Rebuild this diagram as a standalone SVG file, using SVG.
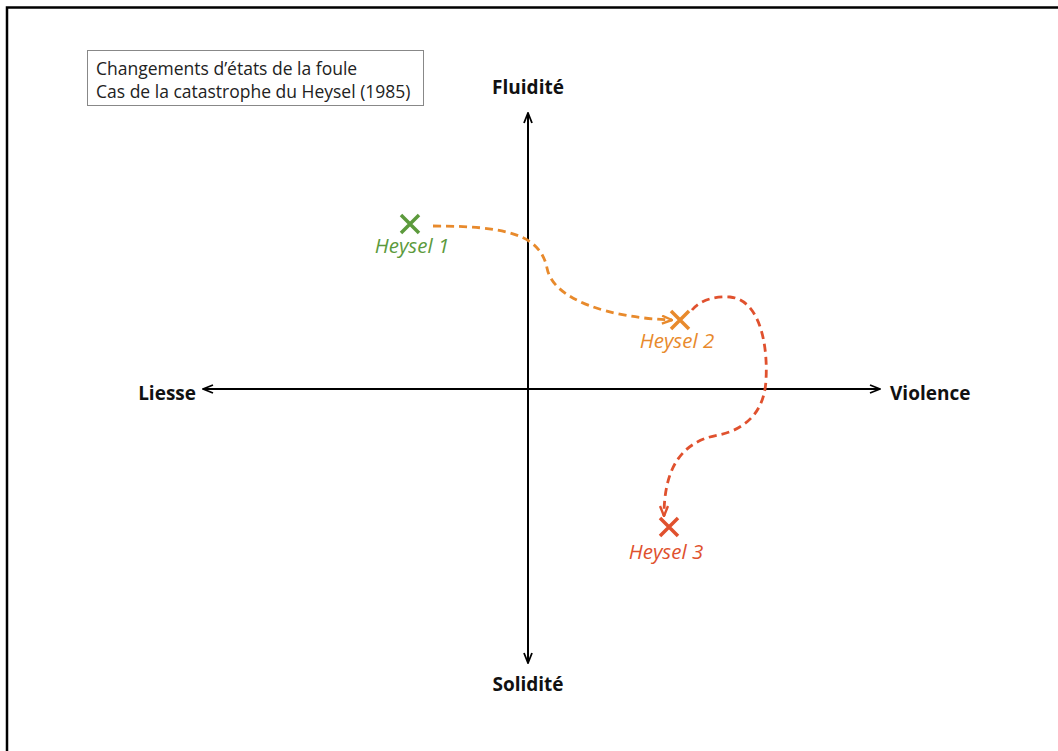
<svg xmlns="http://www.w3.org/2000/svg" width="1058" height="751" viewBox="0 0 1058 751">
<defs>
<style>
.axis{stroke:#000;stroke-width:2;fill:none}
.ax-label{font-family:"Open Sans","Liberation Sans",sans-serif;font-weight:bold;font-size:19px;fill:#111}
.legend{font-family:"Open Sans","Liberation Sans",sans-serif;font-size:17.5px;fill:#222}
.pt-label{font-family:"Open Sans","Liberation Sans",sans-serif;font-style:italic;font-size:20.5px}
.dash{fill:none;stroke-width:2.8;stroke-dasharray:8,5}
</style>
<marker id="ah" viewBox="0 0 12 10" refX="11" refY="5" markerWidth="12" markerHeight="10" markerUnits="userSpaceOnUse" orient="auto">
<path d="M1,1 L11,5 L1,9" fill="none" stroke="#000" stroke-width="1.8"/>
</marker>
<marker id="ah-or" viewBox="0 0 12 10" refX="11" refY="5" markerWidth="12" markerHeight="10" markerUnits="userSpaceOnUse" orient="auto">
<path d="M1,1 L11,5 L1,9" fill="none" stroke="#e88a2c" stroke-width="2.4"/>
</marker>
<marker id="ah-red" viewBox="0 0 12 10" refX="11" refY="5" markerWidth="12" markerHeight="10" markerUnits="userSpaceOnUse" orient="auto">
<path d="M1,1 L11,5 L1,9" fill="none" stroke="#e0512e" stroke-width="2.4"/>
</marker>
</defs>
<rect width="1058" height="751" fill="#fff"/>
<path d="M7,751 V7.5 H1058" fill="none" stroke="#000" stroke-width="2.5"/>
<g id="legend">
<rect x="87.5" y="50.5" width="336" height="55" fill="#fff" stroke="#888" stroke-width="1"/>
<text class="legend" x="96" y="75">Changements d’états de la foule</text>
<text class="legend" x="96" y="98">Cas de la catastrophe du Heysel (1985)</text>
</g>
<g id="connectors">
<line class="axis" x1="528" y1="660" x2="528" y2="113" marker-end="url(#ah)"/>
<line class="axis" x1="528" y1="389" x2="528" y2="663" marker-end="url(#ah)"/>
<line class="axis" x1="528" y1="389" x2="880" y2="389" marker-end="url(#ah)"/>
<line class="axis" x1="528" y1="389" x2="203" y2="389" marker-end="url(#ah)"/>
<path class="dash" stroke="#e88a2c" d="M433,226 C505,226 540,234 547,268 C553,300 610,318 672,320" marker-end="url(#ah-or)"/>
<path class="dash" stroke="#e0512e" d="M692,310 C700,300 715,296 730,297 C760,300 768,345 766,380 C764,420 735,432 718,435 C680,442 664,470 664,516" marker-end="url(#ah-red)"/>
</g>
<g id="axis-fluidite"><text class="ax-label" x="528" y="94" text-anchor="middle">Fluidité</text></g>
<g id="axis-solidite"><text class="ax-label" x="528" y="691" text-anchor="middle">Solidité</text></g>
<g id="axis-liesse"><text class="ax-label" x="196" y="400" text-anchor="end">Liesse</text></g>
<g id="axis-violence"><text class="ax-label" x="890" y="400">Violence</text></g>
<g id="heysel1">
<path d="M401,215 L419,233 M419,215 L401,233" stroke="#5c9a3c" stroke-width="3.5" fill="none"/>
<text class="pt-label" x="412" y="253" text-anchor="middle" fill="#5c9a3c">Heysel 1</text>
</g>
<g id="heysel2">
<path d="M671,311 L689,329 M689,311 L671,329" stroke="#e88a2c" stroke-width="3.5" fill="none"/>
<text class="pt-label" x="677" y="348" text-anchor="middle" fill="#e88a2c">Heysel 2</text>
</g>
<g id="heysel3">
<path d="M660,518 L678,536 M678,518 L660,536" stroke="#e0512e" stroke-width="3.5" fill="none"/>
<text class="pt-label" x="666" y="559" text-anchor="middle" fill="#e0512e">Heysel 3</text>
</g>
</svg>
